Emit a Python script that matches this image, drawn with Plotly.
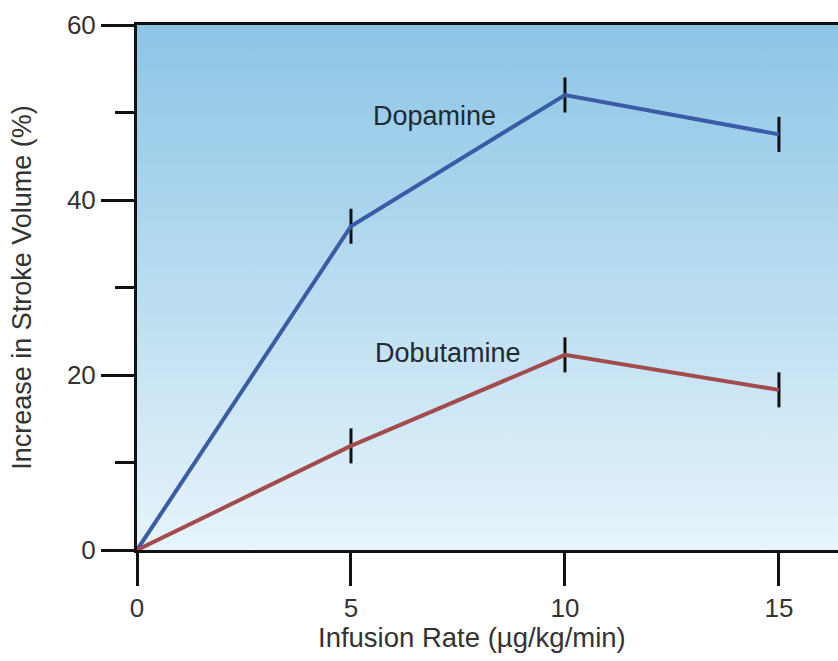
import plotly.graph_objects as go

# Infusion rates (µg/kg/min) and mean increase in stroke volume (%)
infusion_rate = [0, 5, 10, 15]
dopamine = [0, 37.0, 52.0, 47.5]
dobutamine = [0, 11.9, 22.3, 18.3]
# Half-length of the error bars (%); no bar at the origin
dopamine_err = [0, 2.0, 2.0, 2.0]
dobutamine_err = [0, 2.0, 2.0, 2.0]

x_ticks = [0, 5, 10, 15]
y_ticks = [0, 20, 40, 60]
x_max = 16.38
y_max = 60

font_family = "Liberation Sans, Arial, Helvetica, sans-serif"

fig = go.Figure()

# Blue vertical gradient behind the curves
fig.add_trace(go.Scatter(
    x=[0, x_max, x_max, 0, 0], y=[0, 0, y_max, y_max, 0],
    mode="none", fill="toself",
    fillgradient=dict(type="vertical", start=0, stop=y_max,
                      colorscale=[[0, "#e7f4fb"], [1, "#8cc5e6"]]),
    hoverinfo="skip", showlegend=False,
))

fig.add_trace(go.Scatter(
    x=infusion_rate, y=dopamine, mode="lines",
    line=dict(color="#3a5ca6", width=4),
    error_y=dict(type="data", array=dopamine_err, color="#111111",
                 thickness=3, width=0),
    showlegend=False, name="Dopamine",
))
fig.add_trace(go.Scatter(
    x=infusion_rate, y=dobutamine, mode="lines",
    line=dict(color="#a24a4c", width=4),
    error_y=dict(type="data", array=dobutamine_err, color="#111111",
                 thickness=3, width=0),
    showlegend=False, name="Dobutamine",
))

fig.add_annotation(x=6.95, y=49.6, text="Dopamine", showarrow=False,
                   font=dict(size=27, color="#1f2a33", family=font_family))
fig.add_annotation(x=7.27, y=22.5, text="Dobutamine", showarrow=False,
                   font=dict(size=27, color="#1f2a33", family=font_family))

# x-axis title, placed slightly left of the plot centre
fig.add_annotation(xref="paper", yref="paper", x=0.478, y=-0.166,
                   xanchor="center", yanchor="middle", showarrow=False,
                   text="Infusion Rate (µg/kg/min)",
                   font=dict(size=27.5, color="#333333", family=font_family))

fig.update_layout(
    width=838, height=661,
    margin=dict(l=137, r=0, t=25, b=111),
    paper_bgcolor="white", plot_bgcolor="white",
    font=dict(family=font_family, color="#333333"),
    xaxis=dict(
        range=[0, x_max], tickvals=x_ticks, ticktext=[str(v) for v in x_ticks],
        showgrid=False, zeroline=False,
        showline=True, linecolor="#111111", linewidth=3, mirror=True,
        ticks="outside", ticklen=33, tickwidth=3, tickcolor="#111111",
        tickfont=dict(size=26, color="#333333"),
    ),
    yaxis=dict(
        range=[0, y_max], tickvals=y_ticks, ticktext=[str(v) for v in y_ticks],
        showgrid=False, zeroline=False,
        showline=True, linecolor="#111111", linewidth=3,
        ticks="outside", ticklen=33, tickwidth=3, tickcolor="#111111",
        tickfont=dict(size=26, color="#333333"),
        minor=dict(dtick=10, tick0=0, ticks="outside", ticklen=19,
                   tickwidth=3, tickcolor="#111111", showgrid=False),
        title=dict(text="Increase in Stroke Volume (%)", standoff=28,
                   font=dict(size=27, color="#333333")),
    ),
)

fig.write_html("out.html")
